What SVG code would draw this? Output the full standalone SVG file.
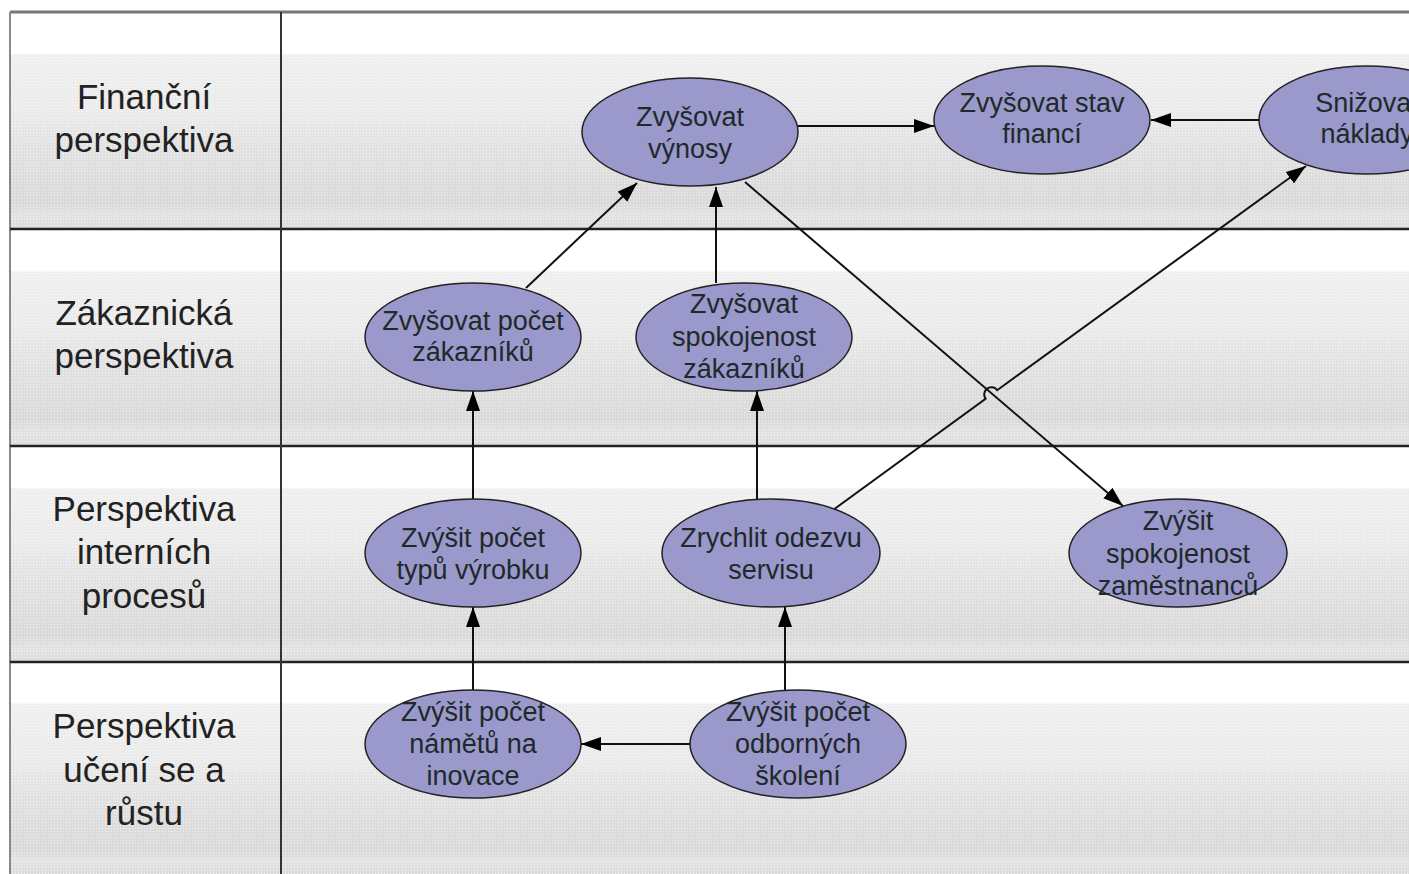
<svg xmlns="http://www.w3.org/2000/svg" width="1409" height="874" viewBox="0 0 1409 874">
<defs>
<linearGradient id="lane" x1="0" y1="0" x2="0" y2="1">
<stop offset="0" stop-color="#ffffff"/>
<stop offset="0.19" stop-color="#ffffff"/>
<stop offset="0.2" stop-color="#efefef"/>
<stop offset="0.45" stop-color="#ebebeb"/>
<stop offset="0.62" stop-color="#e2e2e2"/>
<stop offset="0.88" stop-color="#d9d9d9"/>
<stop offset="0.94" stop-color="#e3e3e3"/>
<stop offset="1" stop-color="#dcdcdc"/>
</linearGradient>
<pattern id="dots" width="3" height="3" patternUnits="userSpaceOnUse">
<rect x="0" y="0" width="1" height="1" fill="#ffffff" opacity="0.6"/>
</pattern>
<marker id="arr" viewBox="0 0 20 14" refX="20" refY="7" markerWidth="20" markerHeight="14" markerUnits="userSpaceOnUse" orient="auto">
<path d="M0,0 L20,7 L0,14 Z" fill="#000"/>
</marker>
<style>
.node ellipse{fill:#9b98cb;stroke:#222;stroke-width:1.5}
.node text{font-family:"Liberation Sans",Arial,sans-serif;font-size:27px;fill:#1e2a2a;text-anchor:middle}
.lbl text{font-family:"Liberation Sans",Arial,sans-serif;font-size:35px;fill:#222;text-anchor:middle}
.edge{fill:none;stroke:#111;stroke-width:2;marker-end:url(#arr)}
.sep{stroke:#222;stroke-width:2.5}
</style>
</defs>
<rect width="1409" height="874" fill="#fff"/>
<g id="lanes">
<rect x="10" y="12" width="1399" height="217" fill="url(#lane)"/>
<rect x="10" y="229" width="1399" height="217" fill="url(#lane)"/>
<rect x="10" y="446" width="1399" height="216" fill="url(#lane)"/>
<rect x="10" y="662" width="1399" height="212" fill="url(#lane)"/>
<rect x="10" y="12" width="1399" height="862" fill="url(#dots)"/>
<line x1="10" y1="12" x2="1409" y2="12" stroke="#777" stroke-width="3"/>
<line x1="10" y1="12" x2="10" y2="874" stroke="#888" stroke-width="2"/>
<line class="sep" x1="10" y1="229" x2="1409" y2="229"/>
<line class="sep" x1="10" y1="446" x2="1409" y2="446"/>
<line class="sep" x1="10" y1="662" x2="1409" y2="662"/>
<line x1="281" y1="12" x2="281" y2="874" stroke="#333" stroke-width="2"/>
</g>
<g id="lane-labels" class="lbl">
<text x="144" y="109">Finanční</text>
<text x="144" y="152">perspektiva</text>
<text x="144" y="325">Zákaznická</text>
<text x="144" y="368">perspektiva</text>
<text x="144" y="521">Perspektiva</text>
<text x="144" y="564">interních</text>
<text x="144" y="608">procesů</text>
<text x="144" y="738">Perspektiva</text>
<text x="144" y="782">učení se a</text>
<text x="144" y="825">růstu</text>
</g>
<g id="connectors">
<line class="edge" x1="798" y1="126" x2="934" y2="126"/>
<line class="edge" x1="1259" y1="120" x2="1151" y2="120"/>
<line class="edge" x1="526" y1="288" x2="637" y2="183"/>
<line class="edge" x1="716" y1="283" x2="716" y2="187"/>
<line class="edge" x1="745" y1="182" x2="1123" y2="506"/>
<path class="edge" d="M833,510 L985.6,398.7 A7,7 0 0 1 997.2,390.2 L1306,166"/>
<line class="edge" x1="473" y1="500" x2="473" y2="391"/>
<line class="edge" x1="757" y1="500" x2="757" y2="391"/>
<line class="edge" x1="473" y1="690" x2="473" y2="607"/>
<line class="edge" x1="785" y1="690" x2="785" y2="607"/>
<line class="edge" x1="690" y1="744" x2="581" y2="744"/>
</g>
<g id="n-vynosy" class="node"><ellipse cx="690" cy="132" rx="108" ry="54"/><text x="690" y="126">Zvyšovat</text><text x="690" y="158">výnosy</text></g>
<g id="n-finance" class="node"><ellipse cx="1042" cy="120" rx="108" ry="54"/><text x="1042" y="112">Zvyšovat stav</text><text x="1042" y="143">financí</text></g>
<g id="n-naklady" class="node"><ellipse cx="1367" cy="120" rx="108" ry="54"/><text x="1367" y="112">Snižovat</text><text x="1367" y="143">náklady</text></g>
<g id="n-zakaznici" class="node"><ellipse cx="473" cy="337" rx="108" ry="54"/><text x="473" y="330">Zvyšovat počet</text><text x="473" y="361">zákazníků</text></g>
<g id="n-spokojenost-zak" class="node"><ellipse cx="744" cy="337" rx="108" ry="54"/><text x="744" y="313">Zvyšovat</text><text x="744" y="346">spokojenost</text><text x="744" y="378">zákazníků</text></g>
<g id="n-vyrobky" class="node"><ellipse cx="473" cy="553" rx="108" ry="54"/><text x="473" y="547">Zvýšit počet</text><text x="473" y="579">typů výrobku</text></g>
<g id="n-servis" class="node"><ellipse cx="771" cy="553" rx="109" ry="54"/><text x="771" y="547">Zrychlit odezvu</text><text x="771" y="579">servisu</text></g>
<g id="n-zamestnanci" class="node"><ellipse cx="1178" cy="553" rx="109" ry="54"/><text x="1178" y="530">Zvýšit</text><text x="1178" y="563">spokojenost</text><text x="1178" y="595">zaměstnanců</text></g>
<g id="n-namety" class="node"><ellipse cx="473" cy="744" rx="108" ry="54"/><text x="473" y="721">Zvýšit počet</text><text x="473" y="753">námětů na</text><text x="473" y="785">inovace</text></g>
<g id="n-skoleni" class="node"><ellipse cx="798" cy="744" rx="108" ry="54"/><text x="798" y="721">Zvýšit počet</text><text x="798" y="753">odborných</text><text x="798" y="785">školení</text></g>
</svg>
